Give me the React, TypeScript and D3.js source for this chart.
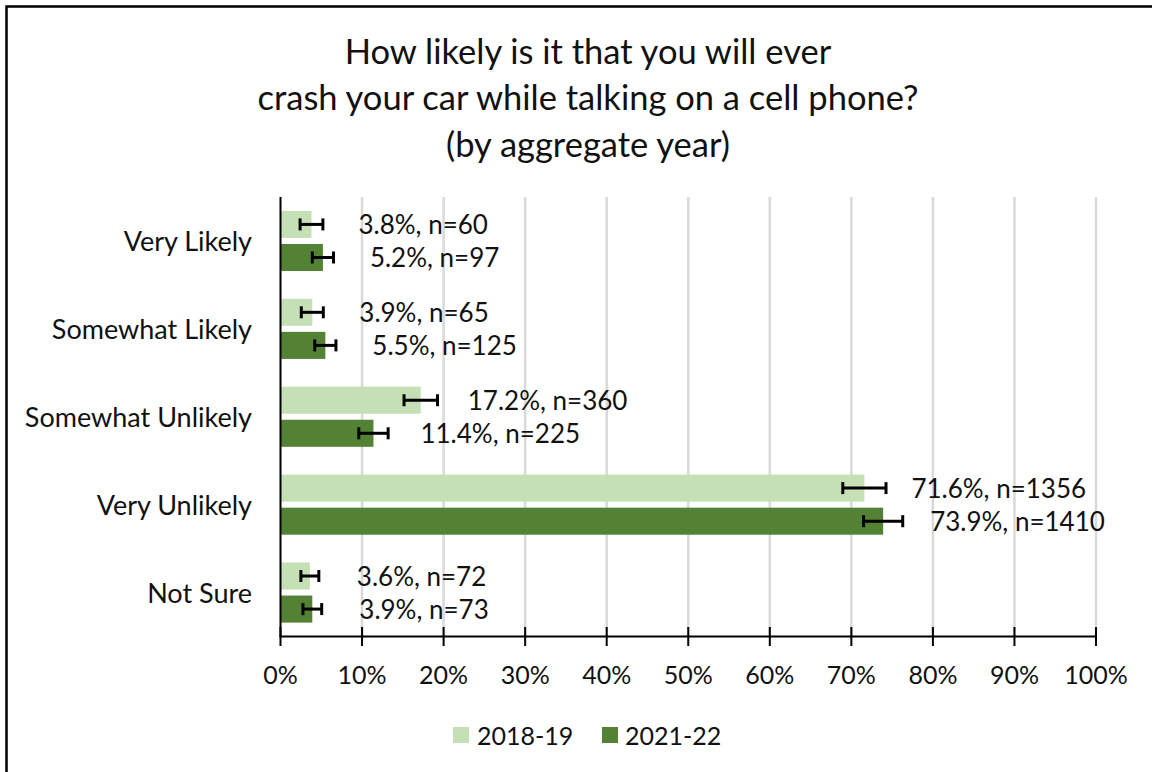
import React from "react";
import * as d3 from "d3";

const categories = ["Very Likely", "Somewhat Likely", "Somewhat Unlikely", "Very Unlikely", "Not Sure"];
const seriesNames = ["2018-19", "2021-22"];
const values2018 = [3.8, 3.9, 17.2, 71.6, 3.6];
const values2021 = [5.2, 5.5, 11.4, 73.9, 3.9];
const n2018 = [60, 65, 360, 1356, 72];
const n2021 = [97, 125, 225, 1410, 73];
const err2018 = [1.4, 1.35, 2.05, 2.65, 1.1];
const err2021 = [1.3, 1.3, 1.8, 2.4, 1.15];
const xTicks = [0, 10, 20, 30, 40, 50, 60, 70, 80, 90, 100];
const titleLines = [
  "How likely is it that you will ever",
  "crash your car while talking on a cell phone?",
  "(by aggregate year)",
];
const colors = ["#C5E0B4", "#548235"];

const W = 1152;
const H = 772;
const FONT = "Lato, 'Noto Sans', sans-serif";

export default function App() {
  const plotLeft = 280.5;
  const plotRight = 1096;
  const plotTop = 197;
  const plotBottom = 636.5;

  const x = d3.scaleLinear().domain([0, 100]).range([plotLeft, plotRight]);
  const y = d3.scaleBand<string>().domain(categories).range([plotTop, plotBottom]).padding(0);
  const inner = d3
    .scaleBand<string>()
    .domain(seriesNames)
    .range([0, y.bandwidth()])
    .paddingInner(0.182)
    .paddingOuter(0.42);

  const series = [
    { name: seriesNames[0], values: values2018, ns: n2018, errs: err2018, color: colors[0] },
    { name: seriesNames[1], values: values2021, ns: n2021, errs: err2021, color: colors[1] },
  ];

  const capH = 12;

  return (
    <svg
      width={W}
      height={H}
      style={{ position: "absolute", left: 0, top: 0, background: "#fff" }}
      fontFamily={FONT}
    >
      <rect x={0} y={0} width={W} height={H} fill="#fff" />
      {/* chart border (right/bottom beyond view) */}
      <rect x={6.5} y={6.5} width={W + 20} height={H + 20} fill="none" stroke="#000" strokeWidth={2.5} />

      {/* title */}
      {titleLines.map((t, i) => (
        <text
          key={i}
          x={588}
          y={50 + i * 46.5}
          textAnchor="middle"
          dominantBaseline="central"
          fontSize={34.5}
          fill="#111"
        >
          {t}
        </text>
      ))}

      {/* gridlines */}
      {xTicks.slice(1).map((t) => (
        <line key={t} x1={x(t)} x2={x(t)} y1={plotTop} y2={plotBottom} stroke="#D9D9D9" strokeWidth={2.5} />
      ))}

      {/* bars */}
      {series.map((s) =>
        categories.map((c, i) => {
          const by = (y(c) as number) + (inner(s.name) as number);
          const bh = inner.bandwidth();
          const v = s.values[i];
          const e = s.errs[i];
          const cy = by + bh / 2;
          return (
            <g key={s.name + c}>
              <rect x={x(0)} y={by} width={x(v) - x(0)} height={bh} fill={s.color} />
              <line x1={x(v - e)} x2={x(v + e)} y1={cy} y2={cy} stroke="#000" strokeWidth={3} />
              <line x1={x(v - e)} x2={x(v - e)} y1={cy - capH / 2} y2={cy + capH / 2} stroke="#000" strokeWidth={3} />
              <line x1={x(v + e)} x2={x(v + e)} y1={cy - capH / 2} y2={cy + capH / 2} stroke="#000" strokeWidth={3} />
              <text x={x(v) + 47} y={cy} dominantBaseline="central" fontSize={26} fill="#111">
                {`${v.toFixed(1)}%, n=${s.ns[i]}`}
              </text>
            </g>
          );
        })
      )}

      {/* axes */}
      <line x1={plotLeft} x2={plotLeft} y1={plotTop} y2={plotBottom} stroke="#000" strokeWidth={2} />
      <line x1={plotLeft - 1} x2={plotRight + 1} y1={plotBottom} y2={plotBottom} stroke="#000" strokeWidth={2} />
      {xTicks.map((t) => (
        <g key={t}>
          <line x1={x(t)} x2={x(t)} y1={plotBottom - 9.5} y2={plotBottom + 9.5} stroke="#000" strokeWidth={2} />
          <text x={x(t)} y={674} textAnchor="middle" dominantBaseline="central" fontSize={25} fill="#111">
            {`${t}%`}
          </text>
        </g>
      ))}

      {/* category labels */}
      {categories.map((c) => (
        <text
          key={c}
          x={252}
          y={(y(c) as number) + y.bandwidth() / 2}
          textAnchor="end"
          dominantBaseline="central"
          fontSize={27}
          fill="#111"
        >
          {c}
        </text>
      ))}

      {/* legend */}
      {[
        { name: seriesNames[0], color: colors[0], sx: 453, tx: 477 },
        { name: seriesNames[1], color: colors[1], sx: 602, tx: 625 },
      ].map((l) => (
        <g key={l.name}>
          <rect x={l.sx} y={727} width={16} height={16} fill={l.color} />
          <text x={l.tx} y={735} dominantBaseline="central" fontSize={25} fill="#111">
            {l.name}
          </text>
        </g>
      ))}
    </svg>
  );
}
